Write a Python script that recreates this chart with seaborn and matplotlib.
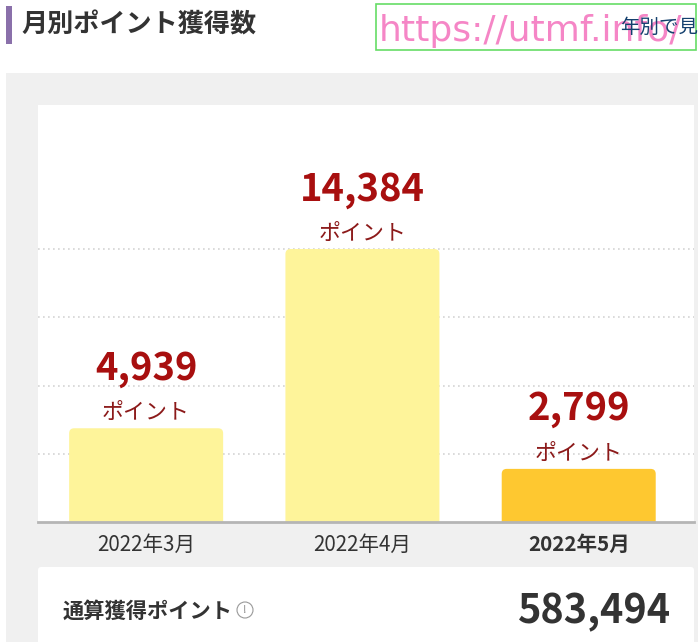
import seaborn as sns, matplotlib.pyplot as plt
import pandas as pd
from matplotlib.patches import Rectangle, FancyBboxPatch, Circle

months = ['2022年3月', '2022年4月', '2022年5月']
points = [4939, 14384, 2799]
bar_colors = ['#fef49a', '#fef49a', '#fec830']
grid_values = [3596, 7192, 10788, 14384]
total_label = '通算獲得ポイント'
total_points = '583,494'

sns.set_theme(style='white')
plt.rcParams['font.family'] = ['Noto Sans CJK JP', 'DejaVu Sans']

fig = plt.figure(figsize=(6.98, 6.42), dpi=100, facecolor='white')

# page furniture, in pixel coordinates
bg = fig.add_axes([0, 0, 1, 1], zorder=0)
bg.set_xlim(0, 698)
bg.set_ylim(642, 0)
bg.axis('off')
bg.add_patch(Rectangle((6, 73), 692, 569, fc='#f0f0f0', ec='none'))
bg.add_patch(Rectangle((6, 6), 6, 38, fc='#8a70aa', ec='none'))
bg.add_patch(FancyBboxPatch((38, 567), 656, 90, boxstyle='round,pad=0,rounding_size=3', fc='white', ec='none'))
bg.text(21, 25.5, '月別ポイント獲得数', fontsize=18.8, fontweight='bold', color='#333333', va='center')
bg.add_patch(Rectangle((375.5, 3.5), 320, 46, fc='none', ec='#66dd66', lw=1.2))
wm = bg.text(379, 31, 'https://utmf.info/', fontsize=26, color='#f586c6', va='center',
             family=['DejaVu Sans'])
wm.set_clip_path(Rectangle((375, 3), 320, 46, transform=bg.transData))
yr = bg.text(620, 27, '年別で見る', fontsize=14, color='#14406e', va='center')
yr.set_clip_path(Rectangle((375, 3), 320, 46, transform=bg.transData))
bg.text(63, 611, total_label, fontsize=15.3, fontweight='bold', color='#333333', va='center')
bg.add_patch(Circle((245, 610), 8, fc='none', ec='#999999', lw=0.8))
bg.text(245, 610, '!', fontsize=8, color='#888888', ha='center', va='center')
bg.text(671, 612, total_points, fontsize=28.5, fontweight='bold', color='#333333', ha='right', va='center')

# chart
ax = fig.add_axes([38 / 698, 1 - 522 / 642, 656 / 698, 417 / 642], zorder=1)
df = pd.DataFrame({'month': months, 'points': points})
sns.barplot(data=df, x='month', y='points', hue='month', palette=bar_colors,
            width=0.712, legend=False, ax=ax, saturation=1)
ax.set_xlim(-0.5, 2.533)
ax.set_ylim(0, 21972)
ax.set_xlabel('')
ax.set_ylabel('')
ax.set_yticks(grid_values)
ax.set_yticklabels([])
ax.tick_params(left=False, bottom=False, pad=2.5)
ax.grid(axis='y', color='#d4d4d4', linestyle=(0, (1, 2)), linewidth=1.2)
ax.set_axisbelow(True)
for s in ['top', 'left', 'right']:
    ax.spines[s].set_visible(False)
ax.spines['bottom'].set_color('#b5b5b5')
ax.spines['bottom'].set_linewidth(2)
ax.spines['bottom'].set_zorder(5)

for i, lab in enumerate(ax.get_xticklabels()):
    lab.set_fontsize(14.8)
    lab.set_color('#333333')
    if i == len(months) - 1:
        lab.set_fontweight('bold')

# rounded top corners, the bar itself gives the size
px_x = 3.033 / 656
px_y = 21972 / 417
for bar, value in zip(list(ax.patches), points):
    x, w, c = bar.get_x(), bar.get_width(), bar.get_facecolor()
    bar.set_visible(False)
    r = FancyBboxPatch((x, -1000), w, value + 1000,
                       boxstyle='round,pad=0,rounding_size=%f' % (5 * px_x),
                       mutation_aspect=px_y / px_x, fc=c, ec='none', zorder=3)
    ax.add_patch(r)
    cx = x + w / 2
    ax.annotate('ポイント', (cx, value), xytext=(0, 15 * 0.72), textcoords='offset points',
                ha='center', va='center', fontsize=15.8, color='#8c1a1a')
    ax.annotate(f'{value:,}', (cx, value), xytext=(0, 60 * 0.72), textcoords='offset points',
                ha='center', va='center', fontsize=27.5, fontweight='bold', color='#a80f0f')

fig.savefig('out.png', dpi=100)
